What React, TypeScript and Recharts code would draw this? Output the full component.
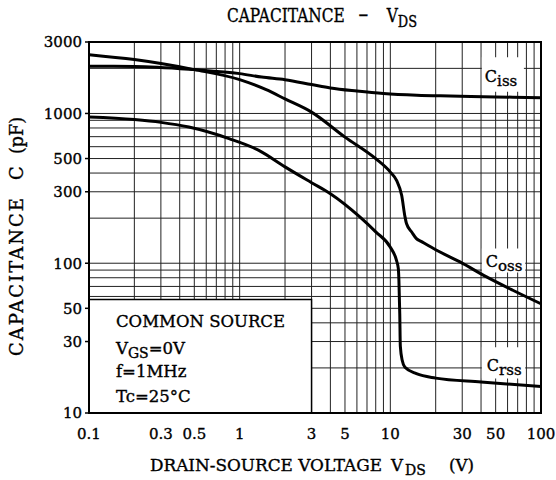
import React from 'react';
import { ComposedChart, Line, XAxis, YAxis, CartesianGrid, ReferenceArea } from 'recharts';

const FONT = '"DejaVu Serif", serif';

// Ciss
const cissV = [0.1, 0.2, 0.5, 1, 1.4, 2, 3, 4, 6, 9, 15, 25, 50, 100];
const cissC = [2064, 2060, 1962, 1845, 1750, 1680, 1560, 1479, 1410, 1357, 1322, 1307, 1290, 1275];

// Coss
const cossV = [0.1, 0.2, 0.5, 1, 1.5, 2, 3, 5, 8, 10, 11, 11.9, 12.5, 12.8, 13.9, 14.9, 16, 20, 29, 43.5, 65, 100];
const cossC = [2470, 2290, 1962, 1682, 1440, 1250, 1021, 695, 499, 406, 357, 283, 205, 184, 161, 146, 140, 123, 102, 81, 66, 53.6];

// Crss
const crssV = [0.1, 0.2, 0.3, 0.46, 0.85, 1.34, 2, 3, 4, 6.3, 8, 10, 11, 11.3, 11.4, 11.55, 11.65, 12, 12.5, 14.9, 20, 40, 100];
const crssC = [946, 910, 872, 811, 679, 567, 440, 345, 291, 203, 162, 128, 104, 92, 77, 46, 28, 22.4, 20.2, 18.3, 17.1, 16.1, 15.0];

const xTicks = [0.1, 0.3, 0.5, 1, 3, 5, 10, 30, 50, 100];
const yTicks = [10, 30, 50, 100, 300, 500, 1000, 3000];
const xGrid = [0.2, 0.3, 0.4, 0.5, 0.6, 0.7, 0.8, 0.9, 1, 2, 3, 4, 5, 6, 7, 8, 9, 10, 20, 30, 40, 50, 60, 70, 80, 90];
const yGrid = [20, 30, 40, 50, 60, 70, 80, 90, 100, 200, 300, 400, 500, 600, 700, 800, 900, 1000, 2000];

const toPoints = (v: number[], c: number[]) => v.map((x, i) => ({ v: x, c: c[i] }));

// a thin outline makes the serif text as heavy as the scanned original
const heavy = { stroke: '#000', strokeWidth: 0.35 };

const legendText = (props: any) => {
  const { x, y } = props.viewBox;
  return (
    <g fontFamily={FONT} fill="#000" fontSize={16.5} {...heavy}>
      <text x={x + 27} y={y + 28}>COMMON SOURCE</text>
      <text x={x + 27} y={y + 55}>
        V<tspan fontSize={14} dy={4}>GS</tspan>
        <tspan dy={-4}>=0V</tspan>
      </text>
      <text x={x + 27} y={y + 78}>f=1MHz</text>
      <text x={x + 27} y={y + 103}>Tc=25°C</text>
    </g>
  );
};

const curveLabel = (sub: string, dx: number, dy: number) => (props: any) => {
  const { x, y } = props.viewBox;
  return (
    <text x={x + dx} y={y + dy} fontFamily={FONT} fontSize={16} fill="#000" {...heavy}>
      C<tspan fontSize={15} dy={4}>{sub}</tspan>
    </text>
  );
};

export default function App() {
  const tickStyle = { fill: '#000', fontSize: 15, fontFamily: FONT, ...heavy };
  return (
    <div style={{ position: 'absolute', left: 0, top: 0, width: 556, height: 480, background: '#fff' }}>
      <ComposedChart width={556} height={480} margin={{ top: 42, right: 15, bottom: 0, left: 0 }}>
        <CartesianGrid stroke="#222" strokeWidth={1} horizontalValues={yGrid} verticalValues={xGrid} />
        <XAxis
          dataKey="v"
          type="number"
          scale="log"
          domain={[0.1, 100]}
          allowDataOverflow
          ticks={xTicks}
          interval={0}
          height={67}
          tickLine={false}
          tickMargin={9}
          axisLine={{ stroke: '#000', strokeWidth: 2 }}
          tick={tickStyle}
          tickFormatter={(t: number) => String(t)}
        />
        <YAxis
          type="number"
          scale="log"
          domain={[10, 3000]}
          allowDataOverflow
          ticks={yTicks}
          interval={0}
          width={89}
          tickSize={4}
          tickMargin={3}
          tickLine={{ stroke: '#000', strokeWidth: 1.5 }}
          axisLine={{ stroke: '#000', strokeWidth: 2 }}
          tick={tickStyle}
        />
        <ReferenceArea x1={0.1} x2={3} y1={10} y2={57.3} fill="#fff" fillOpacity={1} stroke="#000" strokeWidth={1.5} label={legendText} />
        <ReferenceArea x1={40.5} x2={77} y1={1394} y2={2370} fill="#fff" fillOpacity={1} stroke="none" label={curveLabel('iss', 3, 25)} />
        <ReferenceArea x1={40.5} x2={78.5} y1={86.7} y2={125.6} fill="#fff" fillOpacity={1} stroke="none" label={curveLabel('oss', 4, 19)} />
        <ReferenceArea x1={40.5} x2={78.5} y1={17} y2={27.5} fill="#fff" fillOpacity={1} stroke="none" label={curveLabel('rss', 5, 24)} />
        <Line data={toPoints(cissV, cissC)} dataKey="c" type="monotone" stroke="#000" strokeWidth={3} dot={false} isAnimationActive={false} />
        <Line data={toPoints(cossV, cossC)} dataKey="c" type="monotone" stroke="#000" strokeWidth={3} dot={false} isAnimationActive={false} />
        <Line data={toPoints(crssV, crssC)} dataKey="c" type="monotone" stroke="#000" strokeWidth={3} dot={false} isAnimationActive={false} />
        <ReferenceArea x1={0.1} x2={100} y1={10} y2={3000} fill="none" stroke="#000" strokeWidth={2} />
      </ComposedChart>
      <svg width={556} height={480} style={{ position: 'absolute', left: 0, top: 0, pointerEvents: 'none' }} fontFamily={FONT} fill="#000" {...heavy}>
        {/* title, condensed like the original face */}
        <text transform="translate(227 22) scale(0.81 1)" fontSize={19}>
          CAPACITANCE<tspan dx={17} fontSize={24}>–</tspan>
          <tspan dx={23}>V</tspan>
          <tspan dy={5} fontSize={16}>DS</tspan>
        </text>

        <text x={150} y={471} fontSize={16.5} textLength={232} lengthAdjust="spacingAndGlyphs">DRAIN-SOURCE VOLTAGE</text>
        <text x={391} y={471} fontSize={16.5}>V</text>
        <text x={405} y={475} fontSize={14}>DS</text>
        <text x={449} y={471} fontSize={16.5} textLength={25} lengthAdjust="spacingAndGlyphs">(V)</text>

        <text x={23} y={356} fontSize={18} transform="rotate(-90 23 356)" textLength={158} lengthAdjust="spacing">CAPACITANCE</text>
        <text x={23} y={180} fontSize={18} transform="rotate(-90 23 180)">C</text>
        <text x={23} y={154} fontSize={18} transform="rotate(-90 23 154)" textLength={37} lengthAdjust="spacingAndGlyphs">(pF)</text>
      </svg>
    </div>
  );
}
